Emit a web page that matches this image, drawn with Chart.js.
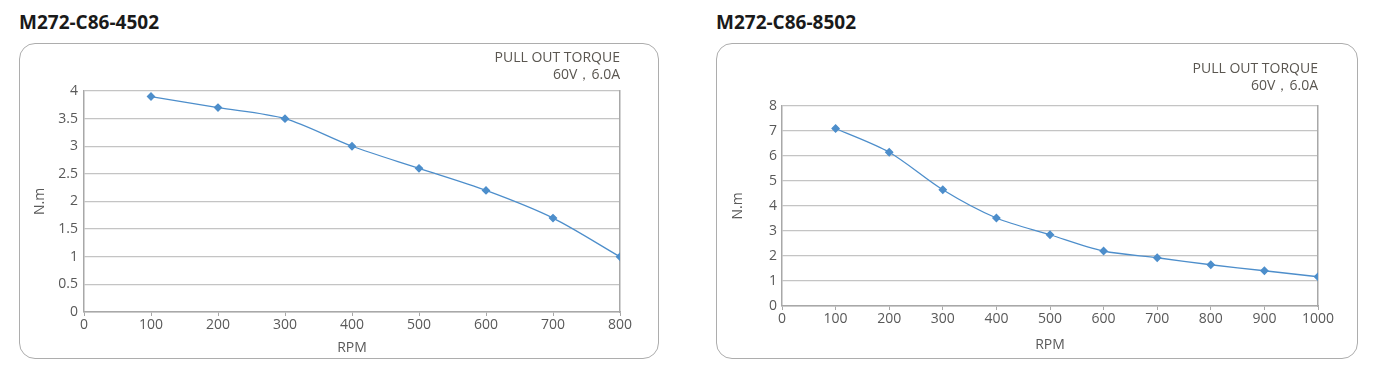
<!DOCTYPE html>
<html>
<head>
<meta charset="utf-8">
<script src="https://cdn.jsdelivr.net/npm/chart.js@4"></script>
<style>
  body { margin: 0; background: #fff; width: 1376px; height: 388px; position: relative; overflow: hidden; font-family: "Open Sans", sans-serif; }
  .title { position: absolute; top: 8px; font-size: 19px; font-weight: 700; color: #1a1a1a; margin: 0; line-height: 28px; }
  .card { position: absolute; border: 1px solid #adadad; border-radius: 16px; box-sizing: border-box; }
  .box { position: absolute; }
  .legend { position: absolute; text-align: right; font-size: 14px; color: #5a5650; line-height: 17px; }
</style>
</head>
<body>
<div class="title" style="left:19px;">M272-C86-4502</div>
<div class="title" style="left:716px;">M272-C86-8502</div>

<div class="card" style="left:19px; top:43px; width:640px; height:316px;"></div>
<div class="card" style="left:716px; top:43px; width:642px; height:316px;"></div>

<div class="box" style="left:19px; top:43px; width:640px; height:316px;"><canvas id="chartLeft"></canvas></div>
<div class="box" style="left:716px; top:43px; width:642px; height:316px;"><canvas id="chartRight"></canvas></div>

<div class="legend" style="right:756px; top:48px;">PULL OUT TORQUE<br>60V，6.0A</div>
<div class="legend" style="right:58px; top:59px;">PULL OUT TORQUE<br>60V，6.0A</div>

<script>
// Data: speed (RPM) vs pull out torque (N.m)
const rpmLeft = [100, 200, 300, 400, 500, 600, 700, 800];
const torqueLeft = [3.9, 3.7, 3.5, 3.0, 2.6, 2.2, 1.7, 1.0];

const rpmRight = [100, 200, 300, 400, 500, 600, 700, 800, 900, 1000];
const torqueRight = [7.1, 6.15, 4.65, 3.52, 2.85, 2.2, 1.93, 1.65, 1.41, 1.17];

const xTitle = 'RPM';
const yTitle = 'N.m';

const lineColor = '#4d8ecb';
const gridColor = '#c4c4c4';
const axisColor = '#a8a8a8';
const textColor = '#595959';

Chart.defaults.font.family = '"Open Sans", sans-serif';
Chart.defaults.color = textColor;
Chart.defaults.animation = false;

// plain number labels: "4" not "4.0", "1000" not "1,000"
const plain = v => String(v);

// Build one torque chart; geometry numbers are in canvas pixels
function torqueChart(id, rpm, torque, opts) {
    const points = rpm.map((r, i) => ({ x: r, y: torque[i] }));
    return new Chart(document.getElementById(id), {
        type: 'line',
        data: {
            datasets: [{
                data: points,
                borderColor: lineColor,
                backgroundColor: lineColor,
                borderWidth: 1.3,
                pointStyle: 'rectRot',
                pointRadius: 3.5,
                tension: 0.3,
                yAxisID: 'y'
            }]
        },
        options: {
            responsive: true,
            maintainAspectRatio: false,
            layout: { padding: { top: opts.top, right: opts.right, left: 0, bottom: 0 } },
            plugins: { legend: { display: false }, tooltip: { enabled: false } },
            scales: {
                x: {
                    type: 'linear',
                    min: 0,
                    max: opts.xMax,
                    ticks: { stepSize: 100, padding: 1, font: { size: 14 }, color: textColor, maxRotation: 0, callback: plain },
                    grid: { drawOnChartArea: false, drawTicks: true, tickLength: 4, color: axisColor },
                    border: { color: axisColor, width: 1.5 },
                    title: { display: true, text: xTitle, font: { size: 14 }, color: textColor, padding: { top: 0, bottom: opts.xTitlePad } },
                    afterFit: s => { s.height = opts.bottom; }
                },
                y: {
                    min: 0,
                    max: opts.yMax,
                    ticks: { stepSize: opts.yStep, padding: opts.yPad, font: { size: 14 }, color: textColor, callback: plain },
                    grid: { drawTicks: false, color: gridColor, lineWidth: 1.3 },
                    border: { color: axisColor, width: 1.5 },
                    title: { display: true, text: yTitle, font: { size: 14 }, color: textColor, padding: { top: opts.yTitlePad, bottom: 0 } },
                    afterFit: s => { s.width = opts.left; }
                },
                yRight: {
                    position: 'right',
                    min: 0,
                    max: opts.yMax,
                    ticks: { display: false },
                    grid: { display: false },
                    border: { display: true, color: axisColor, width: 1.5 },
                    afterFit: s => { s.width = 0; }
                }
            }
        }
    });
}

torqueChart('chartLeft', rpmLeft, torqueLeft, {
    top: 48, right: 39, left: 65, bottom: 47,
    xMax: 800, yMax: 4, yStep: 0.5, yPad: 6,
    xTitlePad: 2.6, yTitlePad: 12.6
});

torqueChart('chartRight', rpmRight, torqueRight, {
    top: 63, right: 40, left: 66, bottom: 53,
    xMax: 1000, yMax: 8, yStep: 1, yPad: 5,
    xTitlePad: 5.6, yTitlePad: 13.6
});
</script>
</body>
</html>
